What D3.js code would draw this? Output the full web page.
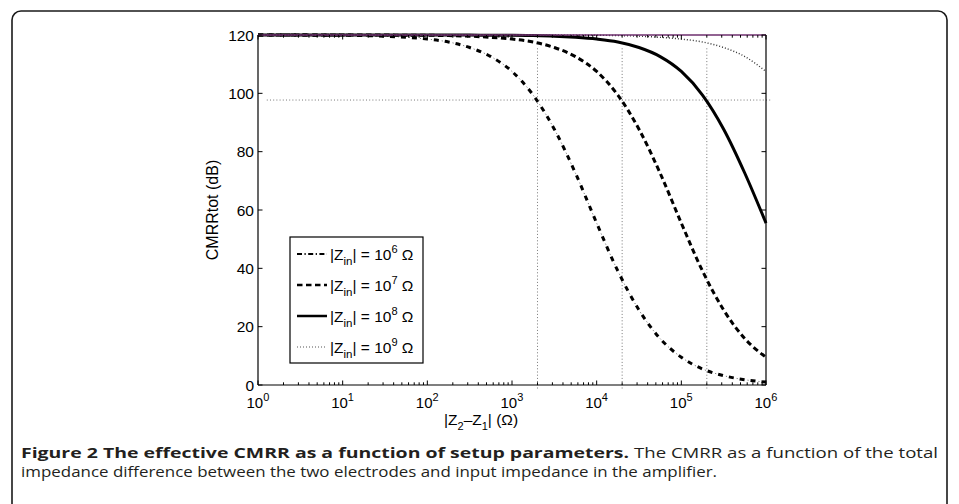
<!DOCTYPE html>
<html>
<head>
<meta charset="utf-8">
<script src="https://cdn.jsdelivr.net/npm/d3@7"></script>
<style>
  html, body { margin: 0; padding: 0; background: #fff; }
  svg { display: block; }
  text, tspan { font-family: "Liberation Sans", Arial, Helvetica, sans-serif; fill: #000; }
  text.cap, text.cap tspan { font-family: "Open Sans", "Noto Sans", sans-serif; fill: #231f20; }
</style>
</head>
<body>
<svg id="chart" width="959" height="504"></svg>
<script>
// ---------- data ----------
// x sample points as log10 exponents of |Z2 - Z1| (Ohm), quarter-decade grid
const xExponents = [0,0.25,0.5,0.75,1,1.25,1.5,1.75,2,2.25,2.5,2.75,3,3.25,3.5,3.75,4,4.25,4.5,4.75,5,5.25,5.5,5.75,6];
const cmrrZin6 = [120.0,120.0,120.0,119.9,119.9,119.8,119.6,119.2,118.6,117.6,115.7,112.6,107.5,99.4,87.7,72.6,55.5,39.1,25.7,15.9,9.5,5.5,3.2,1.8,1.0];
const cmrrZin7 = [120.0,120.0,120.0,120.0,120.0,120.0,120.0,119.9,119.9,119.8,119.6,119.2,118.6,117.6,115.7,112.6,107.5,99.4,87.7,72.6,55.5,39.1,25.7,15.9,9.5];
const cmrrZin8 = [120.0,120.0,120.0,120.0,120.0,120.0,120.0,120.0,120.0,120.0,120.0,119.9,119.9,119.8,119.6,119.2,118.6,117.6,115.7,112.6,107.5,99.4,87.7,72.6,55.5];
const cmrrZin9 = [120.0,120.0,120.0,120.0,120.0,120.0,120.0,120.0,120.0,120.0,120.0,120.0,120.0,120.0,120.0,119.9,119.9,119.8,119.6,119.2,118.6,117.6,115.7,112.6,107.5];
const seriesExponents = ["6","7","8","9"];
// reference (guide) lines
const guideLevel = 97.7;             // horizontal dotted line, dB
const guideXRange = [1.27, 1.13e6];  // extent of horizontal dotted line
const guideXs = [2e3, 2e4, 2e5];     // vertical dotted lines
const guideYRange = [-1.2, 116];
// axes
const xDomain = [1, 1e6];
const yDomain = [0, 120];
const yTicks = [0, 20, 40, 60, 80, 100, 120];
const xTickExps = ["0","1","2","3","4","5","6"];
const yLabel = "CMRRtot (dB)";
const captionBold = "Figure 2 The effective CMRR as a function of setup parameters.";
const captionRest1 = "The CMRR as a function of the total";
const captionLine2 = "impedance difference between the two electrodes and input impedance in the amplifier.";

// ---------- layout ----------
const svg = d3.select("#chart");
const L = 258, R = 766, T = 35, B = 385;
const x = d3.scaleLog().domain(xDomain).range([L, R]);
const y = d3.scaleLinear().domain(yDomain).range([B, T]);

// outer rounded frame
svg.append("rect").attr("x", 12).attr("y", 11).attr("width", 935).attr("height", 520)
  .attr("rx", 9).attr("ry", 9).attr("fill", "none").attr("stroke", "#1a1a1a").attr("stroke-width", 1.6);

// guide lines
const g = svg.append("g");
g.append("line").attr("x1", x(guideXRange[0])).attr("x2", x(guideXRange[1]))
  .attr("y1", y(guideLevel)).attr("y2", y(guideLevel))
  .attr("stroke", "#777").attr("stroke-width", 1).attr("stroke-dasharray", "1,2.2");
guideXs.forEach(v => {
  g.append("line").attr("x1", x(v)).attr("x2", x(v))
    .attr("y1", y(guideYRange[0])).attr("y2", y(guideYRange[1]))
    .attr("stroke", "#777").attr("stroke-width", 1).attr("stroke-dasharray", "1,2.2");
});

// curves
const line = d3.line()
  .x(d => x(Math.pow(10, d[0])))
  .y(d => y(d[1]))
  .curve(d3.curveMonotoneX);
const mk = vals => xExponents.map((e, i) => [e, vals[i]]);

const styles = [
  { vals: cmrrZin6,
    layers: [ { stroke: "#000", w: 3, dash: "5,6" }, { stroke: "#666", w: 1, dash: "0,8,1,2" } ],
    legend: [ { stroke: "#000", w: 2, dash: "5,2.5,1.2,2.5" } ] },
  { vals: cmrrZin7,
    layers: [ { stroke: "#000", w: 3, dash: "5.5,3.5" } ],
    legend: [ { stroke: "#000", w: 2.5, dash: "5.5,3.5" } ] },
  { vals: cmrrZin8,
    layers: [ { stroke: "#000", w: 3, dash: null } ],
    legend: [ { stroke: "#000", w: 2.5, dash: null } ] },
  { vals: cmrrZin9,
    layers: [ { stroke: "#333", w: 1.4, dash: "1,2" } ],
    legend: [ { stroke: "#555", w: 1.2, dash: "1,2" } ] }
];
styles.forEach(s => {
  s.layers.forEach(l => {
    svg.append("path").datum(mk(s.vals)).attr("d", line)
      .attr("fill", "none").attr("stroke", l.stroke).attr("stroke-width", l.w)
      .attr("stroke-dasharray", l.dash);
  });
});

// axes frame
const ax = svg.append("g");
ax.append("line").attr("x1", L).attr("x2", L).attr("y1", T).attr("y2", B).attr("stroke", "#000").attr("stroke-width", 1.2);
ax.append("line").attr("x1", R).attr("x2", R).attr("y1", T).attr("y2", B).attr("stroke", "#000").attr("stroke-width", 1.2);
ax.append("line").attr("x1", L).attr("x2", R).attr("y1", B).attr("y2", B).attr("stroke", "#000").attr("stroke-width", 1.2);
ax.append("line").attr("x1", L).attr("x2", R).attr("y1", T).attr("y2", T).attr("stroke", "#6e2f6e").attr("stroke-width", 1.4);

// x ticks (inward, bottom & top)
x.ticks().forEach(v => {
  const major = Math.abs(Math.log10(v) - Math.round(Math.log10(v))) < 1e-9;
  const len = major ? 4.5 : 2.7;
  ax.append("line").attr("x1", x(v)).attr("x2", x(v)).attr("y1", B).attr("y2", B - len).attr("stroke", "#000").attr("stroke-width", 1);
  ax.append("line").attr("x1", x(v)).attr("x2", x(v)).attr("y1", T).attr("y2", T + len).attr("stroke", "#000").attr("stroke-width", 1);
});
// y ticks (inward, left & right)
yTicks.forEach(v => {
  ax.append("line").attr("x1", L).attr("x2", L + 4.5).attr("y1", y(v)).attr("y2", y(v)).attr("stroke", "#000").attr("stroke-width", 1);
  ax.append("line").attr("x1", R).attr("x2", R - 4.5).attr("y1", y(v)).attr("y2", y(v)).attr("stroke", "#000").attr("stroke-width", 1);
  svg.append("text").attr("x", L - 4).attr("y", y(v) + 5.5).attr("text-anchor", "end")
    .attr("font-size", 15.5).text(v);
});
// x tick labels 10^n
xTickExps.forEach(e => {
  const t = svg.append("text").attr("x", x(Math.pow(10, +e)) - 11.5).attr("y", 408).attr("font-size", 15);
  t.append("tspan").text("10");
  t.append("tspan").attr("dy", -7).attr("font-size", 11).text(e);
});

// axis labels
const xl = svg.append("text").attr("x", 444).attr("y", 425).attr("font-size", 15.5);
xl.append("tspan").text("|Z");
xl.append("tspan").attr("dy", 4.5).attr("font-size", 11).text("2");
xl.append("tspan").attr("dy", -4.5).text("\u2013Z");
xl.append("tspan").attr("dy", 4.5).attr("font-size", 11).text("1");
xl.append("tspan").attr("dy", -4.5).text("| (\u03A9)");

svg.append("text").attr("transform", `translate(218,${(T + B) / 2}) rotate(-90)`)
  .attr("text-anchor", "middle").attr("font-size", 16).text(yLabel);

// legend
const lg = svg.append("g");
lg.append("rect").attr("x", 290).attr("y", 237).attr("width", 133).attr("height", 126)
  .attr("fill", "#fff").attr("stroke", "#000").attr("stroke-width", 1.2);
const rowY = [254, 285, 316, 347];
styles.forEach((s, i) => {
  s.legend.forEach(l => {
    lg.append("line").attr("x1", 297).attr("x2", 327).attr("y1", rowY[i]).attr("y2", rowY[i])
      .attr("stroke", l.stroke).attr("stroke-width", l.w).attr("stroke-dasharray", l.dash);
  });
});
seriesExponents.forEach((e, i) => {
  const t = lg.append("text").attr("x", 330).attr("y", rowY[i] + 5.5).attr("font-size", 15.5);
  t.append("tspan").text("|Z");
  t.append("tspan").attr("dy", 5).attr("font-size", 11.5).text("in");
  t.append("tspan").attr("dy", -5).text("| = 10");
  t.append("tspan").attr("dy", -7).attr("font-size", 11).text(e);
  t.append("tspan").attr("dy", 7).text(" \u03A9");
});

// caption
svg.append("text").attr("class", "cap").attr("x", 21).attr("y", 458).attr("font-size", 14)
  .attr("font-weight", "bold").attr("textLength", 608).attr("lengthAdjust", "spacingAndGlyphs").text(captionBold);
svg.append("text").attr("class", "cap").attr("x", 634).attr("y", 458).attr("font-size", 14)
  .attr("textLength", 304).attr("lengthAdjust", "spacingAndGlyphs").text(captionRest1);
svg.append("text").attr("class", "cap").attr("x", 21).attr("y", 477).attr("font-size", 14)
  .attr("textLength", 696).attr("lengthAdjust", "spacingAndGlyphs").text(captionLine2);
</script>
</body>
</html>
